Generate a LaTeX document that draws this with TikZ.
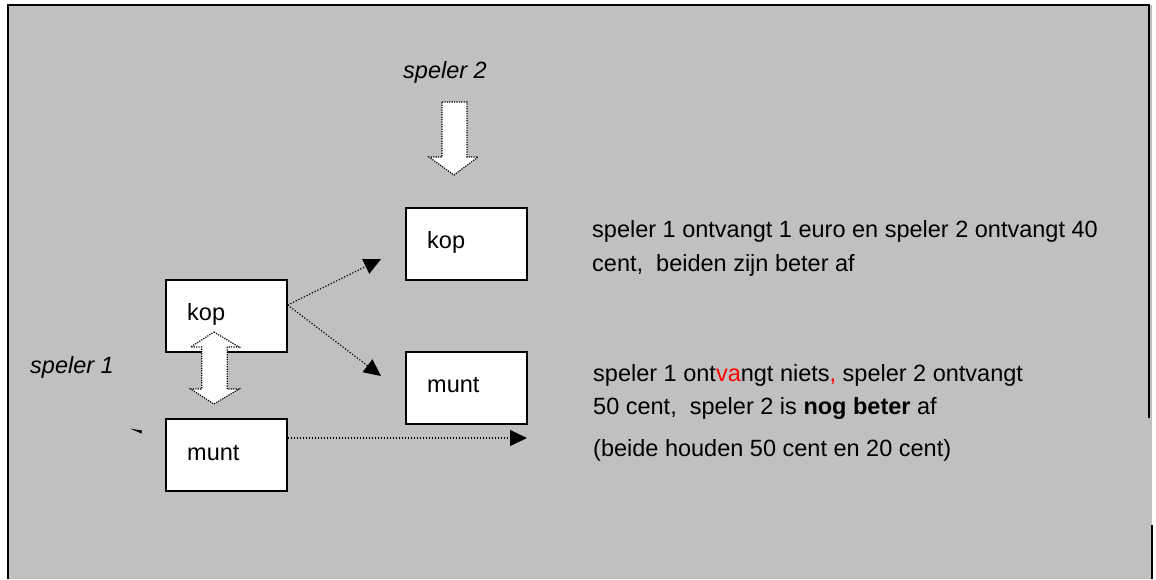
\documentclass[tikz,border=0pt]{standalone}
\usepackage{fontspec}
\setmainfont{Liberation Sans}
\usetikzlibrary{arrows.meta}
\definecolor{bggray}{HTML}{C0C0C0}
\tikzset{
  box/.style={draw, line width=1.3pt, fill=white, minimum width=121pt, minimum height=72pt, inner sep=0pt},
  lbl/.style={anchor=base west, inner sep=0pt, font=\fontsize{23.5}{28}\selectfont},
  conn/.style={line width=1.2pt, dash pattern=on 1.2pt off 1.8pt, -{Triangle[length=17pt,width=16pt]}},
  blockarrow/.style={fill=white, draw, line width=1.2pt, dash pattern=on 1.2pt off 1.2pt}
}
\begin{document}
\begin{tikzpicture}[x=1pt,y=-1pt]
\useasboundingbox (0,0) rectangle (1156,579);
% background and frame
\fill[bggray] (8,5) rectangle (1152,579);
\draw[line width=2.2pt] (8,579) -- (8,5.3) -- (1149,5.3) -- (1149,418);
\draw[line width=2.2pt] (1152,525) -- (1152,579);
% boxes
\node[box] (kopR) at (466.5,244) {};
\node[box] (muntR) at (466.5,388) {};
\node[box] (kopL) at (226.5,316) {};
\node[box] (muntL) at (226.5,455) {};
\node[lbl] (tkopR) at (427,248) {kop};
\node[lbl] (tmuntR) at (427,392) {munt};
\node[lbl] (tkopL) at (187,320) {kop};
\node[lbl] (tmuntL) at (187,460) {munt};
% connectors
\coordinate (s1) at (kopL.east |- 0,305);
\coordinate (e1) at (381,259);
\coordinate (e2) at (381,376);
\coordinate (s3) at (muntL.east |- 0,438);
\coordinate (e3) at (527,438);
\draw[conn] (s1) -- (e1);
\draw[conn] (s1) -- (e2);
\draw[conn] (s3) -- (e3);
% block arrows
\draw[blockarrow] (442,102) -- (467,102) -- (467,157) -- (478,157) -- (454,175) -- (429,157) -- (442,157) -- cycle;
\draw[blockarrow] (214,332) -- (239,347) -- (227.3,347) -- (227.3,389) -- (239,389) -- (214,404) -- (190.7,389) -- (201.7,389) -- (201.7,347) -- (190.7,347) -- cycle;
% small wedge
\fill (130,428.5) -- (142,430.5) -- (141.5,433.5) -- cycle;
% texts
\node[lbl, font=\fontsize{23.5}{28}\selectfont\itshape] (sp2) at (403,78) {speler 2};
\node[lbl, font=\fontsize{23.5}{28}\selectfont\itshape] (sp1) at (30,373) {speler 1};
\node[lbl] (r1a) at (592,237) {speler 1 ontvangt 1 euro en speler 2 ontvangt 40};
\node[lbl] (r1b) at (592,271) {cent,~ beiden zijn beter af};
\node[lbl] (r2a) at (593,381) {speler 1 ont\textcolor{red}{va}ngt niets\textcolor{red}{,} speler 2 ontvangt};
\node[lbl] (r2b) at (593,414) {50 cent,~ speler 2 is \textbf{nog beter} af};
\node[lbl] (r2c) at (593,456) {(beide houden 50 cent en 20 cent)};
\end{tikzpicture}
\end{document}
